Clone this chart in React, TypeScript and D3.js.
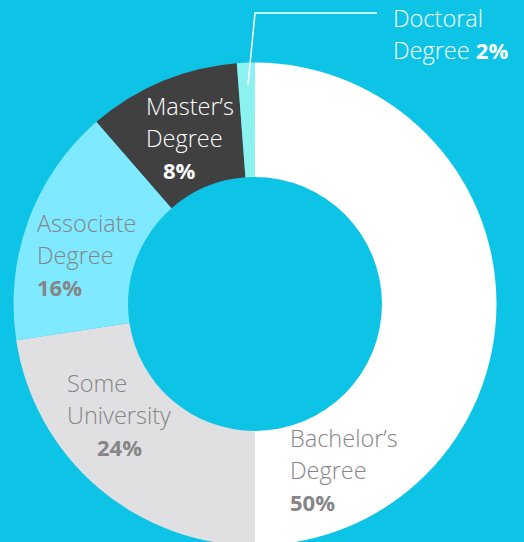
import * as d3 from 'd3'

// segment order is clockwise from 12 o'clock
const categories = ["Bachelor's Degree", "Some University", "Associate Degree", "Master's Degree", "Doctoral Degree"]
// arc shares as drawn in the picture
const shares = [50, 22.6, 16, 10.2, 1.2]
// printed percentages
const percentLabels = ["50%", "24%", "16%", "8%", "2%"]
const labelLines = [["Bachelor\u2019s", "Degree"], ["Some", "University"], ["Associate", "Degree"], ["Master\u2019s", "Degree"], ["Doctoral", "Degree"]]

const colors = ["#ffffff", "#e0e0e3", "#7fe9ff", "#404040", "#8cf2f0"]
const textColors = ["#858585", "#858585", "#858585", "#ffffff", "#ffffff"]

export default function App() {
    const width = 524
    const height = 542
    const cx = 255
    const cy = 304
    const outer = 241.5
    const inner = 127

    const pie = d3.pie<number>().sort(null).value(d => d).startAngle(0).endAngle(2 * Math.PI)
    const arcs = pie(shares)
    const arc = d3.arc<d3.PieArcDatum<number>>().innerRadius(inner).outerRadius(outer)

    // label anchors (left edge of text, first baseline) and line gap
    const lh = 32
    const spots = [
        {x: 290, y: 447, px: 290},
        {x: 67, y: 392, px: 97},
        {x: 37, y: 232, px: 37},
        {x: 146, y: 115, px: 163},
    ]

    const font = "'Open Sans', sans-serif"
    const fs = 23.5

    return (
        <svg width={width} height={height} style={{position: 'fixed', left: 0, top: 0}}>
            <rect width={width} height={height} fill="#0ec4e6" />
            <g transform={`translate(${cx},${cy})`}>
                {arcs.map((a, i) => (
                    <path key={categories[i]} d={arc(a) || ''} fill={colors[i]} />
                ))}
            </g>
            {spots.map((s, i) => (
                <g key={i} fontFamily={font} fontSize={fs} fill={textColors[i]}>
                    <text x={s.x} y={s.y} fontWeight={300}>{labelLines[i][0]}</text>
                    <text x={s.x} y={s.y + lh} fontWeight={300}>{labelLines[i][1]}</text>
                    <text x={s.px} y={s.y + 2 * lh} fontWeight={700} fontSize={22}>{percentLabels[i]}</text>
                </g>
            ))}
            {/* doctoral callout */}
            <polyline points="248,85 255,13 377,13" fill="none" stroke="#ffffff" strokeWidth={1.5} />
            <g fontFamily={font} fontSize={fs} fill="#ffffff">
                <text x={393} y={27} fontWeight={300}>{labelLines[4][0]}</text>
                <text x={393} y={59} fontWeight={300}>
                    {labelLines[4][1]} <tspan fontWeight={700} fontSize={22}>{percentLabels[4]}</tspan>
                </text>
            </g>
        </svg>
    )
}
